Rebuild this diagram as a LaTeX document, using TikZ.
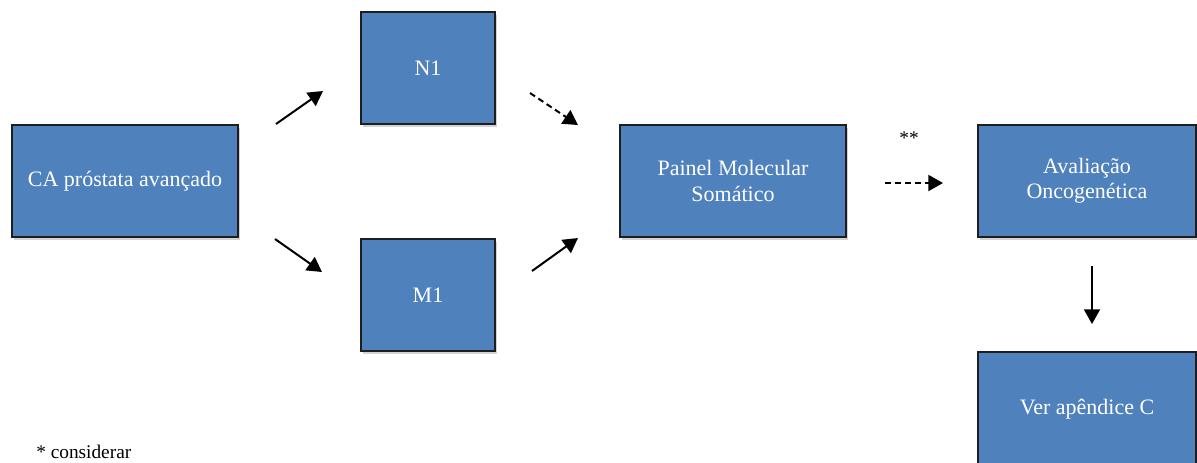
\documentclass[tikz,border=0pt]{standalone}
\usepackage{fontspec}
\setmainfont{Liberation Serif}
\usetikzlibrary{positioning,arrows.meta,shadows}
\definecolor{BoxBlue}{RGB}{79,129,189}
\definecolor{EdgeGray}{RGB}{30,30,30}

\begin{document}
\begin{tikzpicture}[x=0.75pt, y=-0.75pt,
box/.style={draw=EdgeGray, line width=0.9pt, fill=BoxBlue, text=white,
align=center, inner sep=0pt, font=\fontsize{16.5}{19}\selectfont,
drop shadow={shadow xshift=1.2pt, shadow yshift=-2pt, opacity=0.35}},
note/.style={font=\fontsize{14.5}{17}\selectfont, inner sep=0pt},
line/.style={draw=black, line width=1.5pt, -{Triangle[length=11pt, width=12pt]}},
dline/.style={line, dash pattern=on 4.5pt off 3pt}]
\useasboundingbox (0,0) rectangle (1197,462);
\node[box, minimum width=169.5pt, minimum height=84pt] (ca) at (125,181) {CA próstata avançado};
\node[box, minimum width=100.5pt, minimum height=84pt] (n1) at (428,68) {N1};
\node[box, minimum width=100.5pt, minimum height=84pt] (m1) at (428,295) {M1};
\node[box, minimum width=169.5pt, minimum height=84pt] (painel) at (733,181) {Painel Molecular\\Somático};
\node[box, minimum width=163.5pt, minimum height=84pt] (aval) at (1087,181) {Avaliação\\Oncogenética};
\node[box, minimum width=163.5pt, minimum height=85.5pt] (ver) at (1087,409) {Ver apêndice C};
\node[note] (ast2) at (909,138) {**};
\node[note, anchor=west] (ast1) at (36,452) {* considerar};
% free ends of the arrows
\coordinate (c1a) at (276,124); \coordinate (c1b) at (323,91);
\coordinate (c2a) at (275,239); \coordinate (c2b) at (322,272);
\coordinate (c3a) at (530,93); \coordinate (c3b) at (578,125);
\coordinate (c4a) at (532,271); \coordinate (c4b) at (578,238);
\coordinate (c5a) at (885,183); \coordinate (c5b) at (943,183);
\coordinate (c6a) at (1092,266); \coordinate (c6b) at (1092,324);
\draw[line] (c1a)--(c1b); \draw[line] (c2a)--(c2b);
\draw[dline] (c3a)--(c3b); \draw[line] (c4a)--(c4b);
\draw[dline] (c5a)--(c5b); \draw[line] (c6a)--(c6b);
\end{tikzpicture}
\end{document}
